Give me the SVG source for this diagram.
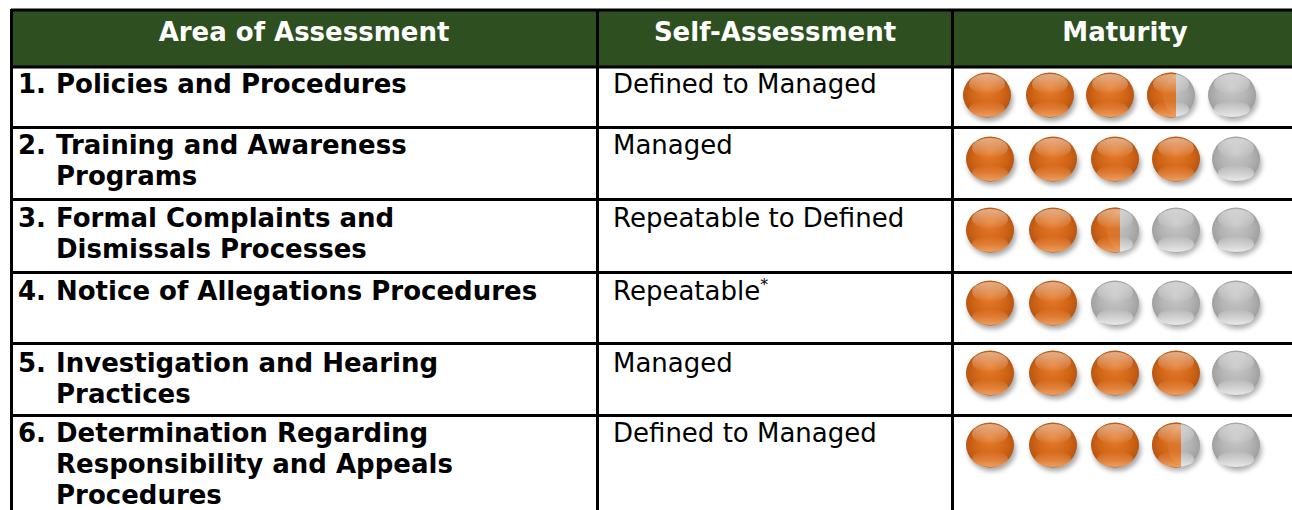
<svg xmlns="http://www.w3.org/2000/svg" xmlns:xlink="http://www.w3.org/1999/xlink" width="1292" height="510" viewBox="0 0 1292 510">
<style>
.hd{font-family:"DejaVu Sans",Verdana,sans-serif;font-size:26px;font-weight:bold;fill:#fff;text-anchor:middle}
.c1{font-family:"DejaVu Sans",Verdana,sans-serif;font-size:26px;font-weight:bold;fill:#000}
.c2{font-family:"DejaVu Sans",Verdana,sans-serif;font-size:26px;fill:#000}
.ln{stroke:#000;stroke-width:3;fill:none}
</style>
<defs>
<filter id="blur" x="-50%" y="-50%" width="200%" height="200%"><feGaussianBlur stdDeviation="2.5"/></filter>
<radialGradient id="gO" cx="0.5" cy="0.5" r="0.55" fx="0.5" fy="0.35">
<stop offset="0" stop-color="#E67C2E"/>
<stop offset="0.6" stop-color="#D16516"/>
<stop offset="0.88" stop-color="#BC5812"/>
<stop offset="1" stop-color="#9E480C"/>
</radialGradient>
<radialGradient id="gG" cx="0.5" cy="0.5" r="0.55" fx="0.5" fy="0.35">
<stop offset="0" stop-color="#C8C8C8"/>
<stop offset="0.6" stop-color="#B2B2B2"/>
<stop offset="0.88" stop-color="#A2A2A2"/>
<stop offset="1" stop-color="#858585"/>
</radialGradient>
<linearGradient id="gHi" x1="0" y1="0" x2="0" y2="1">
<stop offset="0" stop-color="#fff" stop-opacity="0.5"/>
<stop offset="1" stop-color="#fff" stop-opacity="0"/>
</linearGradient>
<linearGradient id="gRimO" x1="0" y1="0" x2="0" y2="1">
<stop offset="0" stop-color="#F59A55" stop-opacity="0"/>
<stop offset="1" stop-color="#F8A868" stop-opacity="0.9"/>
</linearGradient>
<linearGradient id="gRimG" x1="0" y1="0" x2="0" y2="1">
<stop offset="0" stop-color="#fff" stop-opacity="0"/>
<stop offset="1" stop-color="#F2F2F2" stop-opacity="0.9"/>
</linearGradient>
<clipPath id="leftPart"><rect x="-30" y="-30" width="35" height="62"/></clipPath>
<g id="ob">
<ellipse cx="2" cy="5" rx="24" ry="21" fill="#000" opacity="0.35" filter="url(#blur)"/>
<ellipse rx="24" ry="22.5" fill="url(#gO)"/>
<ellipse cy="14" rx="18" ry="8" fill="url(#gRimO)"/>
<ellipse cy="-11" rx="18" ry="10" fill="url(#gHi)"/>
</g>
<g id="gb">
<ellipse cx="2" cy="5" rx="24" ry="21" fill="#000" opacity="0.3" filter="url(#blur)"/>
<ellipse rx="24" ry="22.5" fill="url(#gG)"/>
<ellipse cy="14" rx="18" ry="8" fill="url(#gRimG)"/>
<ellipse cy="-11" rx="18" ry="10" fill="url(#gHi)"/>
</g>
<g id="hb">
<use xlink:href="#gb" href="#gb"/>
<g clip-path="url(#leftPart)">
<ellipse rx="24" ry="22.5" fill="url(#gO)"/>
<ellipse cx="8" rx="16" ry="20" fill="#D9772E" opacity="0.8"/>
<ellipse cy="14" rx="18" ry="8" fill="url(#gRimO)"/>
<ellipse cy="-11" rx="18" ry="10" fill="url(#gHi)"/>
</g>
</g>
</defs>

<rect x="0" y="0" width="1292" height="510" fill="#fff"/>

<g id="header">
<rect x="11" y="10" width="1285" height="57" fill="#2E5020"/>
<text class="hd" x="304" y="41">Area of Assessment</text>
<text class="hd" x="775" y="41">Self-Assessment</text>
<text class="hd" x="1125" y="41">Maturity</text>
</g>

<g id="grid">
<line class="ln" x1="11" y1="10" x2="1296" y2="10"/>
<line class="ln" x1="11" y1="67" x2="1296" y2="67"/>
<line class="ln" x1="11" y1="127.5" x2="1296" y2="127.5"/>
<line class="ln" x1="11" y1="199.5" x2="1296" y2="199.5"/>
<line class="ln" x1="11" y1="272.5" x2="1296" y2="272.5"/>
<line class="ln" x1="11" y1="343.5" x2="1296" y2="343.5"/>
<line class="ln" x1="11" y1="415.5" x2="1296" y2="415.5"/>
<line class="ln" x1="11.5" y1="9" x2="11.5" y2="512"/>
<line class="ln" x1="597.5" y1="9" x2="597.5" y2="512"/>
<line class="ln" x1="952.5" y1="9" x2="952.5" y2="512"/>
</g>

<g id="row1">
<text class="c1" x="18" y="93">1.</text>
<text class="c1" x="56" y="93">Policies and Procedures</text>
<text class="c2" x="613" y="93">Defined to Managed</text>
<use href="#ob" xlink:href="#ob" x="987" y="95"/>
<use href="#ob" xlink:href="#ob" x="1050" y="95"/>
<use href="#ob" xlink:href="#ob" x="1110" y="95"/>
<use href="#hb" xlink:href="#hb" x="1171" y="95"/>
<use href="#gb" xlink:href="#gb" x="1232" y="95"/>
</g>

<g id="row2">
<text class="c1" x="18" y="154">2.</text>
<text class="c1" x="56" y="154">Training and Awareness</text>
<text class="c1" x="56" y="185">Programs</text>
<text class="c2" x="613" y="154">Managed</text>
<use href="#ob" xlink:href="#ob" x="990" y="159"/>
<use href="#ob" xlink:href="#ob" x="1053" y="159"/>
<use href="#ob" xlink:href="#ob" x="1115" y="159"/>
<use href="#ob" xlink:href="#ob" x="1176" y="159"/>
<use href="#gb" xlink:href="#gb" x="1236" y="159"/>
</g>

<g id="row3">
<text class="c1" x="18" y="227">3.</text>
<text class="c1" x="56" y="227">Formal Complaints and</text>
<text class="c1" x="56" y="258">Dismissals Processes</text>
<text class="c2" x="613" y="227">Repeatable to Defined</text>
<use href="#ob" xlink:href="#ob" x="990" y="230"/>
<use href="#ob" xlink:href="#ob" x="1053" y="230"/>
<use href="#hb" xlink:href="#hb" x="1115" y="230"/>
<use href="#gb" xlink:href="#gb" x="1176" y="230"/>
<use href="#gb" xlink:href="#gb" x="1236" y="230"/>
</g>

<g id="row4">
<text class="c1" x="18" y="300">4.</text>
<text class="c1" x="56" y="300">Notice of Allegations Procedures</text>
<text class="c2" x="613" y="300">Repeatable<tspan font-size="16" dy="-10">*</tspan></text>
<use href="#ob" xlink:href="#ob" x="990" y="303"/>
<use href="#ob" xlink:href="#ob" x="1053" y="303"/>
<use href="#gb" xlink:href="#gb" x="1115" y="303"/>
<use href="#gb" xlink:href="#gb" x="1176" y="303"/>
<use href="#gb" xlink:href="#gb" x="1236" y="303"/>
</g>

<g id="row5">
<text class="c1" x="18" y="372">5.</text>
<text class="c1" x="56" y="372">Investigation and Hearing</text>
<text class="c1" x="56" y="403">Practices</text>
<text class="c2" x="613" y="372">Managed</text>
<use href="#ob" xlink:href="#ob" x="990" y="373"/>
<use href="#ob" xlink:href="#ob" x="1053" y="373"/>
<use href="#ob" xlink:href="#ob" x="1115" y="373"/>
<use href="#ob" xlink:href="#ob" x="1176" y="373"/>
<use href="#gb" xlink:href="#gb" x="1236" y="373"/>
</g>

<g id="row6">
<text class="c1" x="18" y="442">6.</text>
<text class="c1" x="56" y="442">Determination Regarding</text>
<text class="c1" x="56" y="473">Responsibility and Appeals</text>
<text class="c1" x="56" y="504">Procedures</text>
<text class="c2" x="613" y="442">Defined to Managed</text>
<use href="#ob" xlink:href="#ob" x="990" y="445"/>
<use href="#ob" xlink:href="#ob" x="1053" y="445"/>
<use href="#ob" xlink:href="#ob" x="1115" y="445"/>
<use href="#hb" xlink:href="#hb" x="1176" y="445"/>
<use href="#gb" xlink:href="#gb" x="1236" y="445"/>
</g>
</svg>
